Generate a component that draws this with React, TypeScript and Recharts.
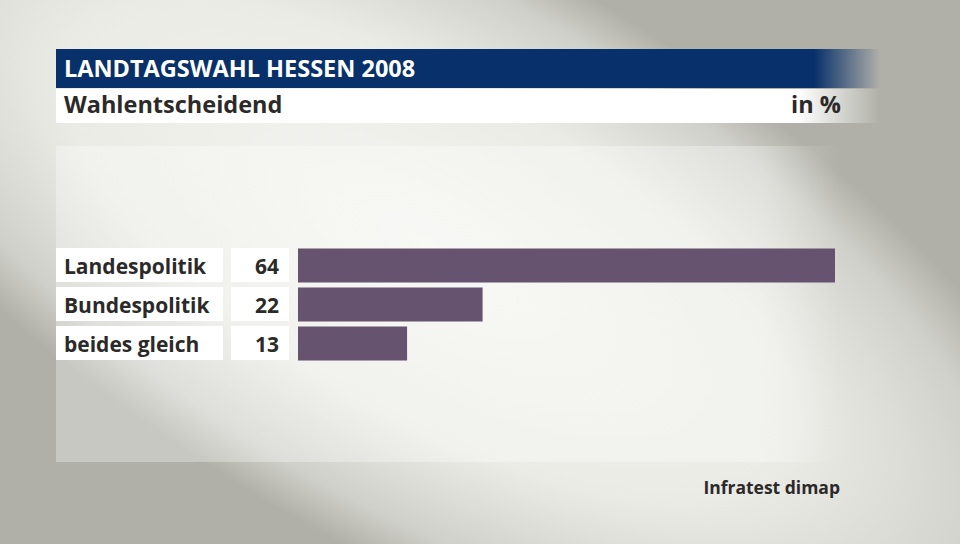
import { BarChart, Bar, XAxis, YAxis } from 'recharts';

const categories = ['Landespolitik', 'Bundespolitik', 'beides gleich'];
const values = [64, 22, 13];

const title = 'LANDTAGSWAHL HESSEN 2008';
const subtitle = 'Wahlentscheidend';
const unit = 'in %';
const source = 'Infratest dimap';

const FONT = '"Open Sans", "Noto Sans", sans-serif';
const TEXT = '#2b2a28';
const BAR = '#65536f';

const data = categories.map((name, i) => ({ name, value: values[i] }));

function LabelTick(props: any) {
  const { y, payload, index } = props;
  return (
    <g>
      <rect x={56} y={y - 17} width={167} height={34} fill="#ffffff" />
      <rect x={231} y={y - 17} width={58} height={34} fill="#ffffff" />
      <text x={64} y={y + 9} fontFamily={FONT} fontWeight={700} fontSize={21} fill={TEXT}>
        {payload.value}
      </text>
      <text x={279} y={y + 9} textAnchor="end" fontFamily={FONT} fontWeight={700} fontSize={21} fill={TEXT}>
        {values[index]}
      </text>
    </g>
  );
}

function Background() {
  return (
    <svg width={960} height={544} style={{ position: 'absolute', left: 0, top: 0 }}>
      <defs>
        <radialGradient
          id="bg"
          gradientUnits="userSpaceOnUse"
          cx={0}
          cy={0}
          r={750}
          gradientTransform="translate(430 250) rotate(30) scale(1 0.4)"
        >
          <stop offset="0" stopColor="#f5f5f1" />
          <stop offset="0.55" stopColor="#ebebe6" />
          <stop offset="0.85" stopColor="#d0d0ca" />
          <stop offset="1" stopColor="#b0b0a8" />
        </radialGradient>
        <linearGradient id="panel" x1="56" x2="840" y1="0" y2="0" gradientUnits="userSpaceOnUse">
          <stop offset="0" stopColor="#ffffff" stopOpacity={0.3} />
          <stop offset="0.9" stopColor="#ffffff" stopOpacity={0.3} />
          <stop offset="1" stopColor="#ffffff" stopOpacity={0} />
        </linearGradient>
        <linearGradient id="titleBar" x1="56" x2="880" y1="0" y2="0" gradientUnits="userSpaceOnUse">
          <stop offset="0" stopColor="#08306b" />
          <stop offset="0.92" stopColor="#08306b" />
          <stop offset="1" stopColor="#08306b" stopOpacity={0} />
        </linearGradient>
        <linearGradient id="subBar" x1="56" x2="880" y1="0" y2="0" gradientUnits="userSpaceOnUse">
          <stop offset="0" stopColor="#ffffff" />
          <stop offset="0.9" stopColor="#ffffff" />
          <stop offset="1" stopColor="#ffffff" stopOpacity={0} />
        </linearGradient>
      </defs>
      <rect x={0} y={0} width={960} height={544} fill="#b0b0a8" />
      <rect x={0} y={0} width={960} height={544} fill="url(#bg)" />
      <rect x={56} y={146} width={784} height={316} fill="url(#panel)" />
      <rect x={56} y={49} width={824} height={39} fill="url(#titleBar)" />
      <rect x={56} y={89} width={824} height={34} fill="url(#subBar)" />
      <text x={64} y={77} fontFamily={FONT} fontWeight={700} fontSize={23.5} fill="#ffffff">
        {title}
      </text>
      <text x={64} y={113} fontFamily={FONT} fontWeight={700} fontSize={23.5} fill={TEXT}>
        {subtitle}
      </text>
      <text x={841} y={113} textAnchor="end" fontFamily={FONT} fontWeight={700} fontSize={23.5} fill={TEXT}>
        {unit}
      </text>
      <text x={840} y={494} textAnchor="end" fontFamily={FONT} fontWeight={700} fontSize={17.5} fill={TEXT}>
        {source}
      </text>
    </svg>
  );
}

export default function App() {
  return (
    <div style={{ position: 'absolute', left: 0, top: 0, width: 960, height: 544, overflow: 'hidden' }}>
      <Background />
      <div style={{ position: 'absolute', left: 0, top: 0 }}>
        <BarChart
          width={960}
          height={544}
          data={data}
          layout="vertical"
          margin={{ top: 245.5, right: 125, bottom: 181.5, left: 56 }}
        >
          <XAxis type="number" domain={[0, 64]} hide />
          <YAxis
            type="category"
            dataKey="name"
            width={242}
            axisLine={false}
            tickLine={false}
            tick={<LabelTick />}
          />
          <Bar dataKey="value" fill={BAR} barSize={34} isAnimationActive={false} />
        </BarChart>
      </div>
    </div>
  );
}
